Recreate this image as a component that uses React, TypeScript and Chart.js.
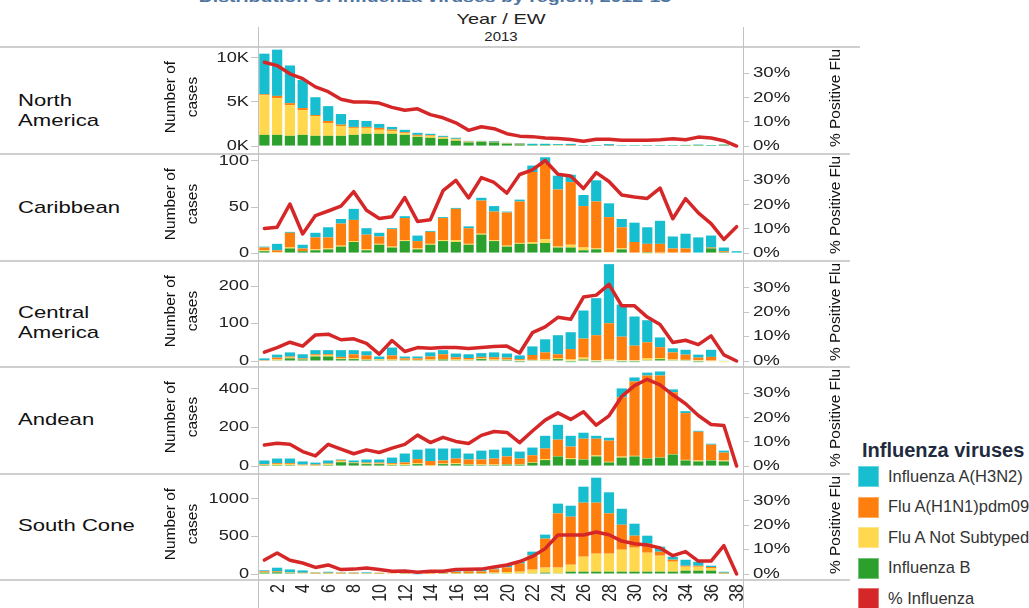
import { useEffect, useRef } from 'react';
import { Chart, registerables } from 'chart.js';

Chart.register(...registerables);

const weeks = ['1','2','3','4','5','6','7','8','9','10','11','12','13','14','15','16','17','18','19','20','21','22','23','24','25','26','27','28','29','30','31','32','33','34','35','36','37','38'];

// North America
const naFluB = [1270,1270,1160,1270,1160,1160,1160,1270,1390,1390,1390,1270,1050,940,820,600,410,490,410,260,190,110,110,70,50,40,40,40,40,40,40,40,40,110,30,30,150,0];
const naNotSub = [4500,4160,3480,2810,2250,1460,1120,790,670,450,330,190,110,220,150,150,80,40,40,30,20,0,0,50,0,0,0,0,0,0,0,0,0,0,40,0,0,0];
const naH1N1 = [110,260,230,230,110,230,150,110,110,220,150,110,110,80,70,70,40,20,40,30,60,0,0,0,50,0,0,30,0,0,0,0,0,0,0,0,0,0];
const naH3N2 = [4600,5250,4270,3180,2020,1680,1200,790,680,450,300,270,230,150,120,120,60,40,80,40,60,150,150,100,150,50,50,150,50,50,50,50,50,20,100,60,30,0];
const naPct = [34.7,33.3,29.9,27.9,24.5,22.5,19.4,18.2,18.2,17.8,16.0,14.8,15.4,13.0,11.7,9.6,6.5,8.0,7.2,5.1,4.1,3.9,3.3,3.1,2.7,2.0,2.8,2.8,2.4,2.4,2.4,2.6,3.0,2.6,3.7,3.3,2.2,0];
const naTicks = [0, 5000, 10000];
const naTickText = ['0K', '5K', '10K'];

// Caribbean
const cbFluB = [2,0,5,2,3,4,7,12,3,9,6,13,4,9,13,12,9,20,13,7,10,10,11,6,6,3,4,0,4,0,1,0,0,0,0,5,1,0];
const cbNotSub = [1,1,1,0,1,1,1,1,1,1,1,1,1,1,1,2,1,1,1,1,1,2,4,1,3,3,1,1,1,0,-1,-1,0,0,0,0,0,0];
const cbH1N1 = [3,2,16,3,13,12,24,23,16,8,19,24,8,13,24,34,17,36,31,36,45,76,82,62,68,45,51,38,23,12,9,10,5,5,0,1,1,0];
const cbH3N2 = [1,7,1,4,5,11,5,12,7,4,1,2,6,1,1,1,2,3,6,1,2,7,7,15,8,12,23,15,9,21,18,25,13,16,17,13,4,2];
const cbPct = [10.2,10.7,20.3,7.9,15.5,17.4,19.4,25.4,17.7,14.3,15.0,23.0,13.1,13.8,25.8,30.1,22.8,31.2,29.2,24.8,32.5,34.4,38.3,32.6,31.9,26.7,33.3,29.6,24.0,23.2,22.6,26.9,14.2,22.5,16.6,12.2,5.6,10.9];
const cbTicks = [0, 50, 100];
const cbTickText = ['0', '50', '100'];

// Central America
const caFluB = [0,2,7,4,12,12,5,5,3,2,2,2,2,2,4,2,2,5,2,3,-3,2,2,5,-3,4,-3,1,-3,-3,2,5,2,2,-3,0,0,0];
const caNotSub = [1,2,2,1,3,4,2,2,1,2,2,1,1,2,1,2,2,2,2,1,2,1,2,3,4,5,2,4,2,2,5,3,2,1,2,-2,-3,0];
const caH1N1 = [1,5,3,2,3,2,4,11,11,1,11,4,4,8,13,6,4,4,6,5,3,13,19,10,28,51,67,96,63,39,43,29,19,14,7,11,0,0];
const caH3N2 = [5,8,11,11,11,11,18,11,11,7,21,5,5,11,11,10,10,10,13,11,10,23,35,51,45,75,99,158,86,78,59,26,11,13,8,19,1,0];
const caPct = [3.6,5.5,7.7,6.1,10.7,11.0,8.7,9.1,7.2,2.8,8.4,3.9,5.5,5.2,5.5,5.5,5.1,5.5,5.9,6.1,3.3,11.6,14.0,17.9,17.1,26.2,27.0,31.4,22.6,22.6,18.0,15.0,7.6,8.5,6.7,10.3,2.5,0];
const caTicks = [0, 100, 200];
const caTickText = ['0', '100', '200'];

// Andean
const anFluB = [5,5,5,3,2,5,20,15,10,10,5,5,10,2,10,10,7,5,5,8,7,17,31,50,36,34,50,19,44,50,39,44,60,29,24,29,24,0];
const anNotSub = [2,5,5,3,2,5,5,2,5,3,5,5,5,3,3,5,3,3,3,2,3,3,5,2,5,2,5,3,5,3,2,2,2,3,5,2,5,0];
const anH1N1 = [3,5,5,2,4,3,5,2,3,5,5,9,21,21,16,24,24,26,31,40,29,36,55,85,60,106,87,110,308,386,429,424,321,243,149,80,41,0];
const anH3N2 = [19,24,24,16,10,16,4,10,16,16,29,46,49,65,62,52,31,46,46,46,36,40,66,77,56,31,15,15,46,21,15,21,15,10,5,5,10,3];
const anPct = [8.7,9.4,9.0,6.0,4.2,9.0,7.0,5.1,6.7,5.6,7.4,9.0,12.8,9.7,11.9,10.2,9.3,12.7,14.3,13.9,9.7,14.5,19.0,22.0,19.3,22.5,16.9,20.8,28.8,33.3,35.9,33.6,29.5,25.8,20.9,17.2,16.8,0];
const anTicks = [0, 200, 400];
const anTickText = ['0', '200', '400'];

// South Cone
const scFluB = [18,22,13,9,4,4,4,4,9,4,0,4,0,0,4,4,4,4,9,9,9,9,18,9,31,31,31,31,31,31,31,31,31,44,44,44,4,0];
const scNotSub = [9,4,4,4,4,9,4,4,0,4,9,4,0,4,4,9,9,9,9,18,22,49,67,76,93,200,240,240,293,320,253,213,133,53,53,36,4,0];
const scH1N1 = [9,9,4,4,9,4,9,9,4,9,4,9,0,9,9,13,22,22,44,62,111,191,387,724,640,720,680,538,333,160,120,53,27,13,13,13,9,0];
const scH3N2 = [13,49,40,31,4,13,4,4,9,0,0,0,-10,4,4,9,13,18,13,27,22,49,53,129,147,213,333,280,213,160,107,67,40,80,53,18,13,0];
const scPct = [5.7,8.6,5.6,4.5,2.7,3.7,1.8,2.0,2.5,1.8,1.1,1.2,0.7,1.1,1.1,1.8,1.9,2.0,2.9,3.7,5.1,7.2,10.4,16.0,16.0,16.0,17.2,16.1,13.5,12.4,11.9,10.7,7.5,9.2,5.3,5.3,11.6,0];
const scTicks = [0, 500, 1000];
const scTickText = ['0', '500', '1000'];

const pctTicks = [0, 10, 20, 30];
const pctTickText = ['0%', '10%', '20%', '30%'];

const seriesNames = ['Influenza A(H3N2)', 'Flu A(H1N1)pdm09', 'Flu A Not Subtyped', 'Influenza B', '% Influenza'];

const REGIONS = [
  { name: 'North America', fluB: naFluB, notSub: naNotSub, h1n1: naH1N1, h3n2: naH3N2, pct: naPct, ticks: naTicks, tickText: naTickText },
  { name: 'Caribbean', fluB: cbFluB, notSub: cbNotSub, h1n1: cbH1N1, h3n2: cbH3N2, pct: cbPct, ticks: cbTicks, tickText: cbTickText },
  { name: 'Central America', fluB: caFluB, notSub: caNotSub, h1n1: caH1N1, h3n2: caH3N2, pct: caPct, ticks: caTicks, tickText: caTickText },
  { name: 'Andean', fluB: anFluB, notSub: anNotSub, h1n1: anH1N1, h3n2: anH3N2, pct: anPct, ticks: anTicks, tickText: anTickText },
  { name: 'South Cone', fluB: scFluB, notSub: scNotSub, h1n1: scH1N1, h3n2: scH3N2, pct: scPct, ticks: scTicks, tickText: scTickText },
];

// ---- styles / layout ----
const C_H3 = '#17becf';
const C_H1 = '#ff7f0e';
const C_NS = '#ffd84d';
const C_B = '#2ca02c';
const C_RED = '#d62728';
const LEGEND_COLORS = [C_H3, C_H1, C_NS, C_B, C_RED];

const FONT = '"Liberation Sans", Arial, Helvetica, sans-serif';
const SEP = [47, 154, 261, 367, 474, 580];
const LAYOUT = [
  { top: 47, h: 107, pxPerUnit: 0.0089, wrap: true, labelTop: 91 },
  { top: 154, h: 107, pxPerUnit: 0.93, wrap: false, labelTop: 198 },
  { top: 261, h: 106, pxPerUnit: 0.374, wrap: true, labelTop: 303 },
  { top: 367, h: 107, pxPerUnit: 0.1945, wrap: false, labelTop: 410 },
  { top: 474, h: 134, pxPerUnit: 0.075, wrap: false, labelTop: 516 },
];
const AREA_H = 105;
const ZERO_FROM_TOP = 99;
const PCT_PX = 2.44;
const CANVAS_LEFT = 150;
const CANVAS_W = 700;

function Panel({ idx }: { idx: number }) {
  const ref = useRef<HTMLCanvasElement | null>(null);
  const L = LAYOUT[idx];
  useEffect(() => {
    const r = REGIONS[idx];
    const last = idx === REGIONS.length - 1;
    const yMax = ZERO_FROM_TOP / L.pxPerUnit;
    const yMin = -(AREA_H - ZERO_FROM_TOP) / L.pxPerUnit;
    const pMax = ZERO_FROM_TOP / PCT_PX;
    const pMin = -(AREA_H - ZERO_FROM_TOP) / PCT_PX;

    const labelPlugin = {
      id: 'stretchLabels' + idx,
      afterDraw(chart: any) {
        const { ctx, chartArea, scales } = chart;
        ctx.save();
        ctx.fillStyle = '#222';
        ctx.textBaseline = 'middle';
        ctx.font = '14px ' + FONT;
        r.ticks.forEach((v: number, i: number) => {
          const py = scales.y.getPixelForValue(v);
          ctx.save();
          ctx.translate(chartArea.left - 9, py);
          ctx.scale(1.3, 1);
          ctx.textAlign = 'right';
          ctx.fillText(r.tickText[i], 0, 0);
          ctx.restore();
        });
        pctTicks.forEach((v, i) => {
          const py = scales.y1.getPixelForValue(v);
          ctx.save();
          ctx.translate(chartArea.right + 10, py);
          ctx.scale(1.33, 1);
          ctx.textAlign = 'left';
          ctx.fillText(pctTickText[i], 0, 0);
          ctx.restore();
        });
        if (last) {
          ctx.font = '16px ' + FONT;
          weeks.forEach((w, i) => {
            if (Number(w) % 2 !== 0) return;
            const px = scales.x.getPixelForValue(i);
            ctx.save();
            ctx.translate(px + 1, chartArea.bottom + 4);
            ctx.rotate(-Math.PI / 2);
            ctx.scale(1, 1.3);
            ctx.textAlign = 'right';
            ctx.fillText(w, 0, 0);
            ctx.restore();
          });
        }
        ctx.restore();
      },
    };

    const barCommon = { yAxisID: 'y', stack: 's', order: 1, barPercentage: 0.8, categoryPercentage: 1, borderWidth: 0 };
    const chart = new Chart(ref.current as HTMLCanvasElement, {
      type: 'bar',
      data: {
        labels: weeks,
        datasets: [
          { ...barCommon, label: seriesNames[3], data: r.fluB, backgroundColor: C_B },
          { ...barCommon, label: seriesNames[2], data: r.notSub, backgroundColor: C_NS },
          { ...barCommon, label: seriesNames[1], data: r.h1n1, backgroundColor: C_H1 },
          { ...barCommon, label: seriesNames[0], data: r.h3n2, backgroundColor: C_H3 },
          {
            type: 'line', label: seriesNames[4], data: r.pct, yAxisID: 'y1', order: 0,
            borderColor: C_RED, backgroundColor: C_RED, borderWidth: 3.5, pointRadius: 0,
            tension: 0, borderJoinStyle: 'round', borderCapStyle: 'round', fill: false,
          } as any,
        ],
      },
      options: {
        responsive: false,
        maintainAspectRatio: false,
        animation: false,
        layout: { padding: { top: 1, bottom: last ? 0 : L.h - 1 - AREA_H, left: 0, right: 0 } },
        plugins: { legend: { display: false }, tooltip: { enabled: false }, title: { display: false } },
        scales: {
          x: {
            type: 'category', stacked: true, offset: true, display: last,
            grid: { display: false }, border: { display: false }, ticks: { display: false },
            afterFit: (s: any) => { s.height = L.h - 1 - AREA_H; },
          },
          y: {
            type: 'linear', position: 'left', stacked: true, min: yMin, max: yMax,
            grid: { display: true, drawOnChartArea: false, drawTicks: true, tickLength: 7, tickColor: '#c4c4c4', color: '#c4c4c4' },
            border: { display: false }, ticks: { display: false },
            afterBuildTicks: (s: any) => { s.ticks = r.ticks.map((v: number) => ({ value: v })); },
            afterFit: (s: any) => { s.width = 108; },
          },
          y1: {
            type: 'linear', position: 'right', min: pMin, max: pMax,
            grid: { display: true, drawOnChartArea: false, drawTicks: true, tickLength: 6, tickColor: '#c4c4c4', color: '#c4c4c4' },
            border: { display: false }, ticks: { display: false },
            afterBuildTicks: (s: any) => { s.ticks = pctTicks.map((v) => ({ value: v })); },
            afterFit: (s: any) => { s.width = 107; },
          },
        },
      } as any,
      plugins: [labelPlugin],
    });
    return () => chart.destroy();
  }, [idx]);
  return (
    <canvas
      ref={ref}
      width={CANVAS_W}
      height={L.h}
      style={{ position: 'absolute', left: CANVAS_LEFT, top: L.top, width: CANVAS_W, height: L.h }}
    />
  );
}

function Stretch({ text, left, top, size, sx, bold, color, anchor }: any) {
  const centered = anchor === 'center';
  return (
    <div
      style={{
        position: 'absolute', left, top, fontSize: size, lineHeight: size + 'px', fontWeight: bold ? 700 : 400,
        color: color || '#111', whiteSpace: 'nowrap', fontFamily: FONT,
        transform: centered ? `translate(-50%, -50%) scaleX(${sx})` : `scaleX(${sx})`,
        transformOrigin: centered ? 'center center' : 'left center',
      }}
    >
      {text}
    </div>
  );
}

export default function App() {
  const areaCenter = (i: number) => LAYOUT[i].top + 1 + AREA_H / 2;
  return (
    <div
      style={{
        position: 'absolute', left: 0, top: 0, width: 1029, height: 608, overflow: 'hidden',
        background: '#fff', fontFamily: FONT,
      }}
    >
      {/* cropped title */}
      <Stretch text="Distribution of Influenza viruses by region, 2012-13" left={435} top={-4} size={15} sx={1.3} bold color="#4f74a0" anchor="center" />
      <Stretch text="Year / EW" left={501} top={17.5} size={15} sx={1.33} color="#222" anchor="center" />
      <Stretch text="2013" left={501} top={37} size={12} sx={1.25} color="#222" anchor="center" />

      {REGIONS.map((r, i) => <Panel key={r.name} idx={i} />)}

      {/* separators */}
      {SEP.map((y, i) => (
        <div key={'h' + i} style={{ position: 'absolute', left: 0, top: y - 1, width: i === 0 ? 860 : 850, height: 2, background: '#cfcfcf' }} />
      ))}
      <div style={{ position: 'absolute', left: 258, top: 27, width: 1, height: 581, background: '#c2c2c2' }} />
      <div style={{ position: 'absolute', left: 743, top: 27, width: 1, height: 581, background: '#c2c2c2' }} />

      {/* region labels */}
      {REGIONS.map((r, i) => {
        const L = LAYOUT[i];
        const lines = L.wrap ? r.name.split(' ') : [r.name];
        return (
          <div key={'lab' + i} style={{ position: 'absolute', left: 18, top: L.labelTop, fontSize: 17, lineHeight: '20px', color: '#111', transform: 'scaleX(1.3)', transformOrigin: 'left top', whiteSpace: 'nowrap' }}>
            {lines.map((t) => <div key={t}>{t}</div>)}
          </div>
        );
      })}

      {/* left axis titles */}
      {REGIONS.map((r, i) => (
        <div key={'nc' + i} style={{ position: 'absolute', left: 181, top: areaCenter(i) - 4, transform: 'translate(-50%, -50%) rotate(-90deg)', fontSize: 15.5, lineHeight: '22px', textAlign: 'center', color: '#111', whiteSpace: 'nowrap' }}>
          <div>Number of</div>
          <div>cases</div>
        </div>
      ))}

      {/* right axis titles */}
      {REGIONS.map((r, i) => (
        <div key={'pf' + i} style={{ position: 'absolute', left: 835, top: areaCenter(i) - 3, transform: 'translate(-50%, -50%) rotate(-90deg)', fontSize: 15.5, lineHeight: '18px', color: '#111', whiteSpace: 'nowrap' }}>
          % Positive Flu
        </div>
      ))}

      {/* legend */}
      <div style={{ position: 'absolute', left: 862, top: 440, fontSize: 20, lineHeight: '20px', fontWeight: 700, color: '#1f2b3e', whiteSpace: 'nowrap' }}>
        Influenza viruses
      </div>
      {seriesNames.map((n, i) => {
        const top = 466 + i * 30.6;
        return (
          <div key={n}>
            <div style={{ position: 'absolute', left: 858, top, width: 21, height: 21, background: LEGEND_COLORS[i], boxShadow: 'inset 0 0 0 1px rgba(255,255,255,0.35)' }} />
            <div style={{ position: 'absolute', left: 888, top: top + 10.5, transform: 'translateY(-50%) scaleX(0.97)', transformOrigin: 'left center', fontSize: 17, lineHeight: '18px', color: '#333', whiteSpace: 'nowrap' }}>
              {n}
            </div>
          </div>
        );
      })}
    </div>
  );
}
